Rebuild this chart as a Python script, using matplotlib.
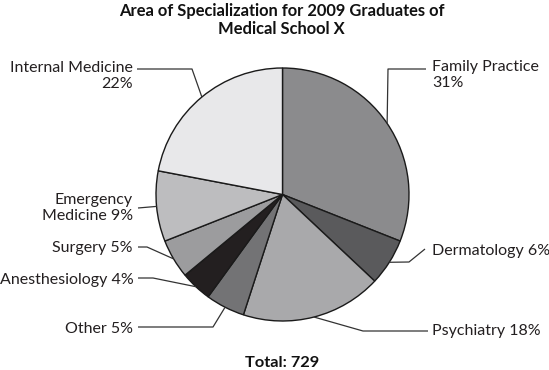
import numpy as np
import matplotlib.pyplot as plt

# data
labels = ['Family Practice', 'Dermatology', 'Psychiatry', 'Other',
          'Anesthesiology', 'Surgery', 'Emergency\nMedicine', 'Internal Medicine']
shares = [31, 6, 18, 5, 4, 5, 9, 22]
colors = ['#8b8b8d', '#5a5a5c', '#a9a9ab', '#737375',
          '#231f20', '#9c9c9e', '#bdbdbf', '#e8e8ea']
total = 729

plt.rcParams['font.family'] = ['Lato', 'DejaVu Sans']

W, H = 549, 370
fig = plt.figure(figsize=(W / 100, H / 100), dpi=100)
ax = fig.add_axes([0, 0, 1, 1])

# pie in pixel coords (y measured from bottom)
cx, cy, r = 282.5, H - 194.5, 126.5
wedges, _ = ax.pie(shares, colors=colors, startangle=90, counterclock=False,
                   center=(cx, cy), radius=r, frame=True,
                   wedgeprops=dict(edgecolor='#1a1a1a', linewidth=1.0))
ax.set_xlim(0, W)
ax.set_ylim(0, H)
ax.set_aspect('equal')
ax.axis('off')

# label layout: (side, text x, text y, leader points from the text side)
# side 'L' -> text right aligned, 'R' -> left aligned
layout = [
    ('R', 432, 75, [(426, 69), (388, 69)]),          # Family Practice
    ('R', 432, 251, [(425, 249), (409, 262)]),       # Dermatology
    ('R', 432, 331, [(428, 331), (363, 331)]),       # Psychiatry
    ('L', 133, 329, [(138, 327), (213, 327)]),       # Other
    ('L', 134, 280, [(138, 278), (153, 278)]),       # Anesthesiology
    ('L', 133, 248, [(138, 247), (147, 247)]),       # Surgery
    ('L', 133, 208, [(138, 208)]),                   # Emergency Medicine
    ('L', 133, 76, [(137, 69), (192, 69)]),          # Internal Medicine
]

for w, lab, s, (side, tx, ty, pts) in zip(wedges, labels, shares, layout):
    mid = np.deg2rad((w.theta1 + w.theta2) / 2)
    rim = (cx + r * np.cos(mid), cy + r * np.sin(mid))
    if lab in ('Family Practice', 'Internal Medicine'):
        txt = f'{lab}\n{s}%'
    else:
        txt = f'{lab} {s}%'
    xs = [p[0] for p in pts] + [rim[0]]
    ys = [H - p[1] for p in pts] + [rim[1]]
    ax.plot(xs, ys, color='#333333', lw=0.9, solid_capstyle='butt')
    ha = 'right' if side == 'L' else 'left'
    ax.text(tx, H - ty, txt, ha=ha, va='center', ma=ha, fontsize=11.5,
            color='#231f20', linespacing=1.15)

ax.text(W / 2 + 7, H - 20, 'Area of Specialization for 2009 Graduates of\nMedical School X',
        ha='center', va='center', fontsize=11.9, fontweight='bold',
        color='#111111', linespacing=1.2)
ax.text(W / 2 + 8, H - 363, f'Total: {total}', ha='center', va='center',
        fontsize=11.8, fontweight='bold', color='#111111')

fig.savefig('out.png', dpi=100)
